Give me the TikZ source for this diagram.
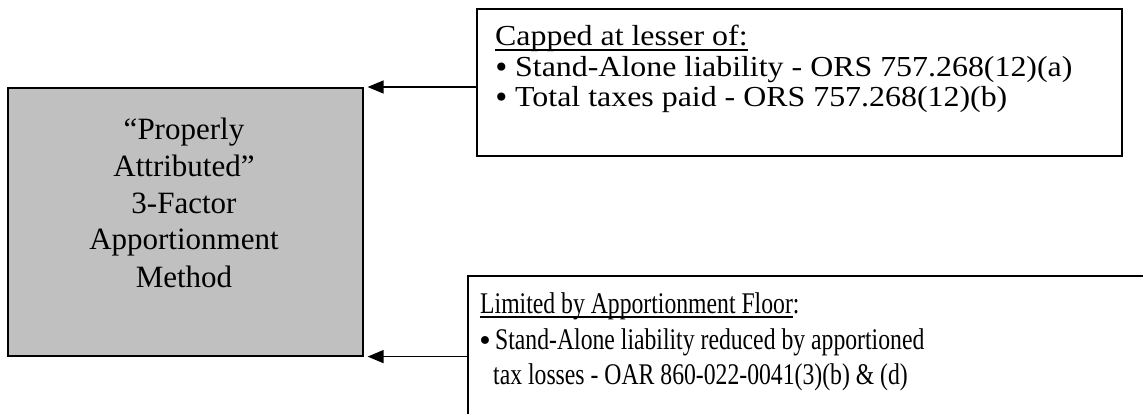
\documentclass[tikz,border=0pt]{standalone}
\usepackage{fontspec}
\setmainfont{Liberation Serif}
\newfontfamily\wideserif[FakeStretch=1.1]{Liberation Serif}
\newfontfamily\condserif[FakeStretch=0.79]{Liberation Serif}
\newfontfamily\bulfont{DejaVu Sans}
\usetikzlibrary{arrows.meta}
\definecolor{boxgray}{HTML}{C0C0C0}
\newcommand{\myul}[2]{\setbox0\hbox{#2}\rlap{\rule[-#1]{\wd0}{1.7pt}}\box0}
% round bullet: #1 = advance width, #2 = bullet font size, #3 = lowering
\newcommand{\bigbul}[3]{\makebox[#1][l]{\raisebox{-#3}{\bulfont\fontsize{#2}{#2}\selectfont •}}}
\begin{document}
\begin{tikzpicture}[x=1pt,y=-1pt,
  box/.style={draw=black, line width=1.6pt, rectangle, inner sep=0pt, anchor=north west},
  ctxt/.style={anchor=base, inner sep=0pt, font=\fontsize{31}{37}\selectfont},
  ttxt/.style={anchor=base west, inner sep=0pt, text height=19pt, text depth=4pt, font=\wideserif\fontsize{29}{29}\selectfont},
  btxt/.style={anchor=base west, inner sep=0pt, text height=20pt, text depth=5pt, font=\condserif\fontsize{30}{36}\selectfont},
  arr/.style={line width=1.4pt, -{Triangle[length=16pt,width=13pt]}}]
\useasboundingbox (0,0) rectangle (1143,414);
\clip (0,0) rectangle (1143,414);
% left box
\node[box, fill=boxgray, minimum width=355pt, minimum height=268pt] (method) at (7,87) {};
\node[ctxt] (m1) at (184,140) {“Properly};
\node[ctxt] (m2) at (184,177) {Attributed”};
\node[ctxt] (m3) at (184,214) {3-Factor};
\node[ctxt] (m4) at (184,250) {Apportionment};
\node[ctxt] (m5) at (184,287) {Method};
% top box
\node[box, minimum width=645pt, minimum height=147pt] (capbox) at (476,8) {};
\node[ttxt] (c1) at (495,46) {\myul{5pt}{Capped at lesser of:}};
\node[ttxt] (c2) at (493,77) {\bigbul{22pt}{28}{1pt}Stand-Alone liability - ORS 757.268(12)(a)};
\node[ttxt] (c3) at (493,107) {\bigbul{22pt}{28}{1pt}Total taxes paid - ORS 757.268(12)(b)};
% bottom box
\node[box, minimum width=720pt, minimum height=200pt] (floorbox) at (467,275) {};
\node[btxt] (f1) at (480,313) {\myul{5pt}{Limited by Apportionment Floor}:};
\node[btxt] (f2) at (477,349) {\bigbul{18pt}{27}{1pt}Stand-Alone liability reduced by apportioned};
\node[btxt] (f3) at (493,384) {tax losses - OAR 860-022-0041(3)(b) \& (d)};
% arrows
\draw[arr] (capbox.west |- method.north) -- ([xshift=4pt]method.north east);
\draw[arr] (floorbox.west |- method.south) -- ([xshift=4pt]method.south east);
\end{tikzpicture}
\end{document}
